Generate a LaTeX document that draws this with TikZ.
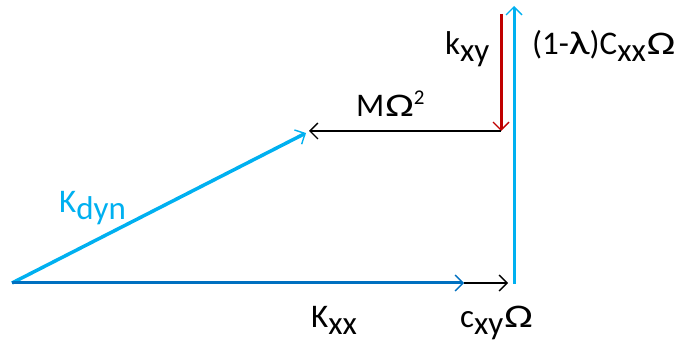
\documentclass[tikz,border=0pt]{standalone}
\usepackage{fontspec}
\setmainfont{Carlito}
\usetikzlibrary{arrows.meta}
\definecolor{lblue}{HTML}{00B0F0}
\definecolor{dblue}{HTML}{0070C0}
\definecolor{dred}{HTML}{C00000}
\newcommand{\sbs}[1]{\raisebox{-7pt}{#1}}
\newcommand{\Om}{\kern1pt\scalebox{1.3}[1]{Ω}}
\newcommand{\lam}{\scalebox{1.35}[1]{λ}}
\begin{document}
\begin{tikzpicture}[x=1pt,y=-1pt,
  tip/.style={-{Straight Barb[length=8pt,width=16pt,line width=1.4pt]}},
  lbl/.style={font=\fontsize{33}{36}\selectfont, inner sep=0pt}]
\useasboundingbox (0,0) rectangle (683,344);
\coordinate (O) at (12,283);
\coordinate (A) at (464,283);
\coordinate (B) at (508,283);
\coordinate (V0) at (514,284);
\coordinate (Vt) at (514,6);
\coordinate (R0) at (501,14);
\coordinate (R1) at (501,131);
\coordinate (M1) at (309,131);
\coordinate (D) at (306,133);
% K_dyn
\draw[lblue, line width=3.5pt, tip] (O) -- (D);
% K_xx
\draw[dblue, line width=3pt, tip] (O) -- (A);
% c_xy Omega
\draw[black, line width=1.5pt, tip] (A) -- (B);
% vertical
\draw[lblue, line width=3pt, tip] (V0) -- (Vt);
% red k_xy
\draw[dred, line width=3pt, tip] (R0) -- (R1);
% M Omega^2
\draw[black, line width=1.5pt, tip] (R1) -- (M1);
% labels
\node[lbl, anchor=base west] (lkxx) at (311,328) {K\sbs{xx}};
\node[lbl, anchor=base west] (lcxy) at (460,328) {c\sbs{xy}\Om};
\node[lbl, anchor=base west] (lcxx) at (532,55) {(1-\lam)C\sbs{xx}\Om};
\node[lbl, anchor=base west] (lkxy) at (445,55) {k\sbs{xy}};
\node[lbl, anchor=base west] (lm) at (356,117) {M\Om\raisebox{12pt}{\fontsize{21}{22}\selectfont 2}};
\node[lbl, anchor=base west, text=lblue] (lkd) at (59,213) {K\sbs{dyn}};
\end{tikzpicture}
\end{document}
